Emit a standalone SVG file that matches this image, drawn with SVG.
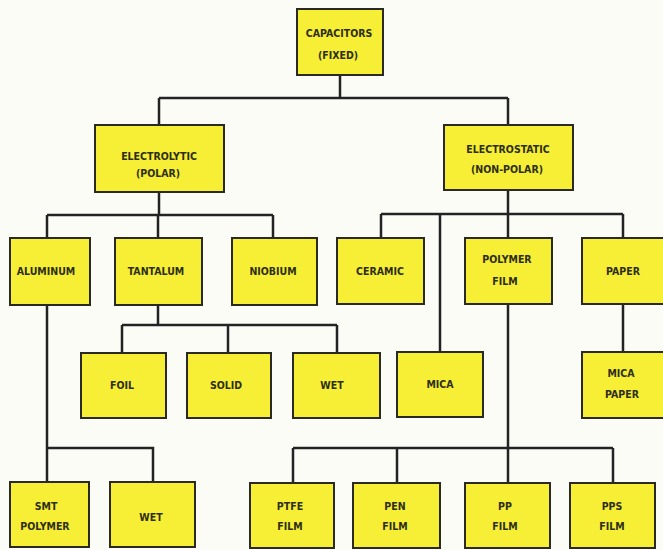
<svg xmlns="http://www.w3.org/2000/svg" width="663" height="550" viewBox="0 0 663 550">
<style>
.bg{fill:#fcfcf7}
.box{fill:#f6ef36;stroke:#2a2a22;stroke-width:2}
.t{font-family:"DejaVu Sans Condensed","DejaVu Sans",sans-serif;font-weight:bold;font-size:10.5px;fill:#2e2e14;text-anchor:middle}
.c{fill:none;stroke:#232323;stroke-width:2.5}
</style>
<rect class="bg" x="0" y="0" width="663" height="550"/>
<g id="connectors">
<path class="c" d="M340,75V98M159,98H508M159,98V125M508,98V125"/>
<path class="c" d="M159,192V215M47,215H273M47,215V238M158,215V238M273,215V238"/>
<path class="c" d="M508,190V214M381,214H623M381,214V238M440,214V352M508,214V238M623,214V238"/>
<path class="c" d="M158,305V325M122,325H337M122,325V353M228,325V353M337,325V353"/>
<path class="c" d="M47,305V482M47,448H153V482"/>
<path class="c" d="M508,304V483M293,448H613M293,448V483M397,448V483M613,448V483"/>
<path class="c" d="M623,304V352"/>
</g>
<g id="capacitors"><rect class="box" x="297" y="9" width="86" height="66"/><text class="t" x="339" y="37">CAPACITORS</text><text class="t" x="338" y="59">(FIXED)</text></g>
<g id="electrolytic"><rect class="box" x="95" y="125" width="129" height="67"/><text class="t" x="159" y="160">ELECTROLYTIC</text><text class="t" x="158" y="177">(POLAR)</text></g>
<g id="electrostatic"><rect class="box" x="444" y="125" width="129" height="65"/><text class="t" x="508" y="153">ELECTROSTATIC</text><text class="t" x="507" y="173">(NON-POLAR)</text></g>
<g id="aluminum"><rect class="box" x="10" y="238" width="80" height="67"/><text class="t" x="46" y="275">ALUMINUM</text></g>
<g id="tantalum"><rect class="box" x="115" y="238" width="87" height="67"/><text class="t" x="156" y="275">TANTALUM</text></g>
<g id="niobium"><rect class="box" x="232" y="238" width="85" height="67"/><text class="t" x="273" y="275">NIOBIUM</text></g>
<g id="ceramic"><rect class="box" x="337" y="238" width="87" height="66"/><text class="t" x="380" y="275">CERAMIC</text></g>
<g id="polymer-film"><rect class="box" x="465" y="238" width="87" height="66"/><text class="t" x="507" y="263">POLYMER</text><text class="t" x="505" y="285">FILM</text></g>
<g id="paper"><rect class="box" x="582" y="238" width="88" height="66"/><text class="t" x="623" y="275">PAPER</text></g>
<g id="foil"><rect class="box" x="81" y="353" width="85" height="65"/><text class="t" x="122" y="389">FOIL</text></g>
<g id="solid"><rect class="box" x="187" y="353" width="84" height="65"/><text class="t" x="226" y="389">SOLID</text></g>
<g id="wet-tantalum"><rect class="box" x="293" y="353" width="87" height="65"/><text class="t" x="332" y="389">WET</text></g>
<g id="mica"><rect class="box" x="397" y="352" width="86" height="65"/><text class="t" x="440" y="388">MICA</text></g>
<g id="mica-paper"><rect class="box" x="582" y="352" width="88" height="66"/><text class="t" x="621" y="377">MICA</text><text class="t" x="622" y="398">PAPER</text></g>
<g id="smt-polymer"><rect class="box" x="10" y="482" width="79" height="65"/><text class="t" x="46" y="510">SMT</text><text class="t" x="45" y="530">POLYMER</text></g>
<g id="wet-aluminum"><rect class="box" x="110" y="482" width="85" height="65"/><text class="t" x="151" y="521">WET</text></g>
<g id="ptfe-film"><rect class="box" x="250" y="483" width="84" height="65"/><text class="t" x="290" y="510">PTFE</text><text class="t" x="290" y="530">FILM</text></g>
<g id="pen-film"><rect class="box" x="353" y="483" width="87" height="65"/><text class="t" x="395" y="510">PEN</text><text class="t" x="395" y="530">FILM</text></g>
<g id="pp-film"><rect class="box" x="465" y="483" width="85" height="65"/><text class="t" x="505" y="510">PP</text><text class="t" x="505" y="530">FILM</text></g>
<g id="pps-film"><rect class="box" x="570" y="483" width="85" height="65"/><text class="t" x="612" y="510">PPS</text><text class="t" x="612" y="530">FILM</text></g>
</svg>
